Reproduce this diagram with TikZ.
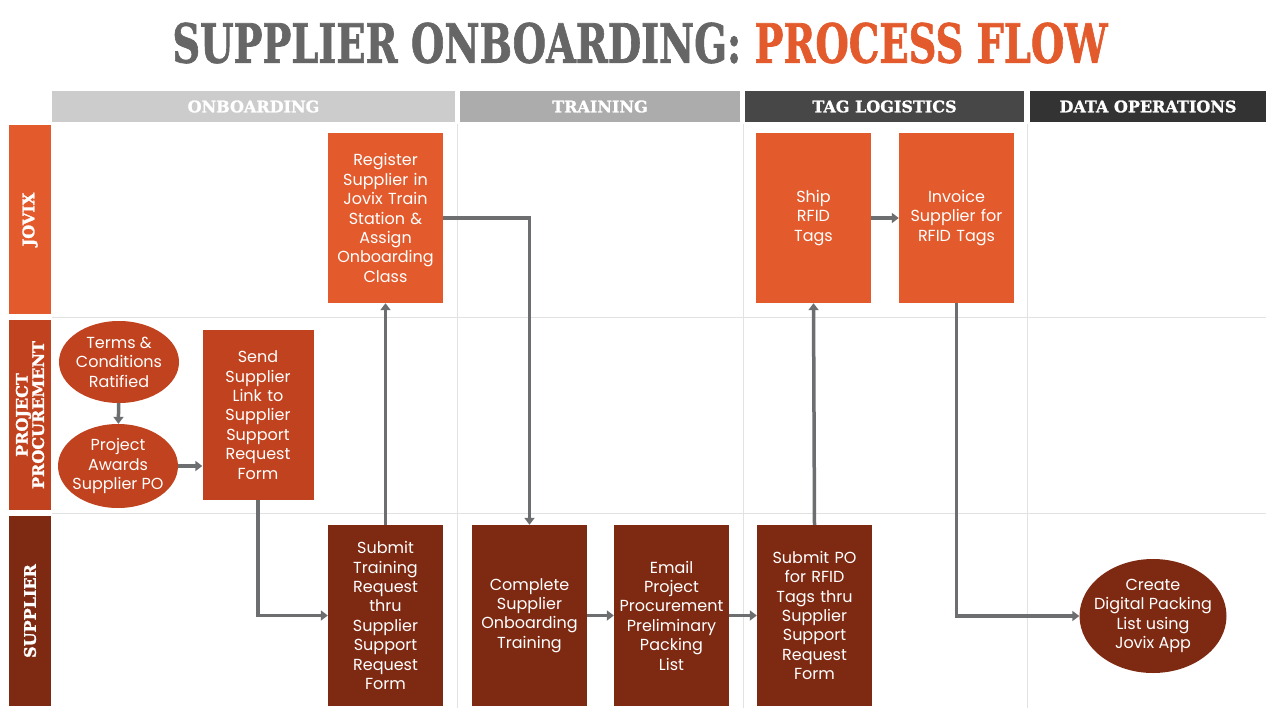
\documentclass[tikz,border=0pt]{standalone}
\usepackage{fontspec}
\setmainfont{Poppins}
\newfontfamily\slab{DejaVu Serif}[FakeBold=1.5]
\usepackage{graphicx}
\usetikzlibrary{positioning, arrows.meta, shapes.geometric}

\definecolor{jovixorange}{HTML}{E35B2D}
\definecolor{procred}{HTML}{C1421E}
\definecolor{supbrown}{HTML}{7E2A13}
\definecolor{titlegray}{HTML}{666666}
\definecolor{flowgray}{HTML}{6D6E70}
\definecolor{gridgray}{HTML}{E2E2E2}

\tikzset{
  task/.style={rectangle, minimum width=115pt, minimum height=170pt, text width=113pt,
    align=center, text=white, inner sep=0pt,
    font=\fontsize{16}{19.4}\selectfont},
  event/.style={ellipse, inner ysep=0pt, align=center, text=white,
    font=\fontsize{16}{19.4}\selectfont},
  hdr/.style={minimum height=31pt, inner sep=0pt, text=white,
    font=\slab\bfseries\fontsize{16}{16}\selectfont},
  lane/.style={minimum height=42pt, inner sep=0pt, text=white, rotate=90,
    align=center, font=\slab\bfseries\fontsize{16}{15}\selectfont},
  flow/.style={draw=flowgray, line width=3.5pt, -{Triangle[length=7pt,width=10pt]}},
}

\begin{document}
\begin{tikzpicture}[x=1pt, y=-1pt]
\useasboundingbox (0,0) rectangle (1280,720);
\fill[white] (0,0) rectangle (1280,720);

% title
\node (title) at (640,43) {\resizebox{935pt}{40pt}{\slab\bfseries
  \textcolor{titlegray}{SUPPLIER ONBOARDING:} \textcolor{jovixorange}{PROCESS FLOW}}};

% phase headers
\node[hdr, fill=gray!40, minimum width=403pt] (hOnb) at (253.5,106.5) {ONBOARDING};
\node[hdr, fill=gray!65, minimum width=280pt] (hTrn) at (600,106.5) {TRAINING};
\node[hdr, fill=black!72, minimum width=279pt] (hTag) at (884.5,106.5) {TAG LOGISTICS};
\node[hdr, fill=black!80, minimum width=236pt] (hData) at (1148,106.5) {DATA OPERATIONS};

% lanes
\node[lane, fill=jovixorange, minimum width=189pt] (lJovix) at (30,219.5) {JOVIX};
\node[lane, fill=procred, minimum width=190pt] (lProc) at (30,415) {PROJECT\\PROCUREMENT};
\node[lane, fill=supbrown, minimum width=190pt] (lSup) at (30,611) {SUPPLIER};

% grid
\draw[gridgray, line width=1pt] (52,317) -- (1266,317);
\draw[gridgray, line width=1pt] (52,513) -- (1266,513);
\foreach \gx in {457,743,1027}
  \draw[gridgray, line width=1pt] (\gx,124) -- (\gx,708);

% jovix
\node[task, fill=jovixorange] (register) at (385.5,218) {Register\\Supplier in\\Jovix Train\\Station \&\\Assign\\Onboarding\\Class};
\node[task, fill=jovixorange] (ship) at (813.5,218) {Ship\\RFID\\Tags};
\node[task, fill=jovixorange] (invoice) at (956.5,218) {Invoice\\Supplier for\\RFID Tags};

% project procurement
\node[event, fill=procred, inner xsep=-13pt, minimum width=120pt, minimum height=82pt] (terms) at (119,362) {Terms \&\\Conditions\\Ratified};
\node[event, fill=procred, inner xsep=-13pt, minimum width=120pt, minimum height=84pt] (awards) at (118,466) {Project\\Awards\\Supplier PO};
\node[task, fill=procred, minimum width=111pt, text width=109pt] (send) at (258,415) {Send\\Supplier\\Link to\\Supplier\\Support\\Request\\Form};

% supplier
\node[task, fill=supbrown, minimum height=181pt] (submitTr) at (385.5,615.5) {Submit\\Training\\Request\\thru\\Supplier\\Support\\Request\\Form};
\node[task, fill=supbrown, minimum height=181pt] (complete) at (529.5,615.5) {Complete\\Supplier\\Onboarding\\Training};
\node[task, fill=supbrown, minimum height=181pt] (email) at (671.5,615.5) {Email\\Project\\Procurement\\Preliminary\\Packing\\List};
\node[task, fill=supbrown, minimum height=181pt] (submitPO) at (814.5,615.5) {Submit PO\\for RFID\\Tags thru\\Supplier\\Support\\Request\\Form};
\node[event, fill=supbrown, inner xsep=-16pt, minimum width=147pt, minimum height=114pt] (create) at (1153,616) {Create\\Digital Packing\\List using\\Jovix App};

% flow
\draw[flow] (terms) -- (awards);
\draw[flow] (awards.east) -- (awards.east -| send.west);
\draw[flow] (send.south) |- (submitTr.west);
\draw[flow] (submitTr.north) -- (register.south);
\draw[flow] (register.east) -| (complete.north);
\draw[flow] (complete) -- (email);
\draw[flow] (email) -- (submitPO);
\draw[flow] (submitPO.north) -- (ship.south);
\draw[flow] (ship) -- (invoice);
\draw[flow] (invoice.south) |- (create.west);
\end{tikzpicture}
\end{document}
